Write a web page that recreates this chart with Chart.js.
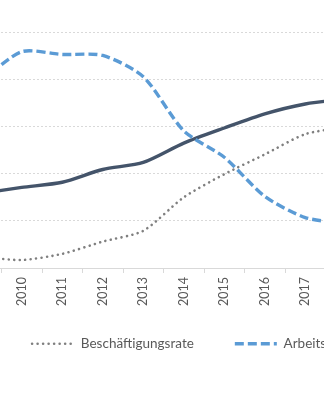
<!DOCTYPE html>
<html>
<head>
<meta charset="utf-8">
<script src="https://cdn.jsdelivr.net/npm/chart.js@4/dist/chart.umd.min.js"></script>
<style>
  html, body { margin: 0; padding: 0; background: #fff; overflow: hidden; width: 324px; height: 400px; }
  #wrap { position: absolute; left: -60px; top: -40px; }
</style>
</head>
<body>
<div id="wrap"><canvas id="chart" width="717" height="428"></canvas></div>
<script>
// years on the x axis (the picture is a crop, 2009 and 2018 sit just outside)
const years = ['2009', '2010', '2011', '2012', '2013', '2014', '2015', '2016', '2017', '2018'];

// series values (one unit per gridline)
const beschaeftigung = [0.24, 0.17, 0.30, 0.56, 0.79, 1.50, 1.99, 2.41, 2.84, 2.99];
const arbeitslos = [3.97, 4.59, 4.53, 4.51, 4.06, 2.91, 2.35, 1.52, 1.07, 0.94];
const drittereihe = [1.58, 1.71, 1.82, 2.09, 2.24, 2.65, 2.97, 3.27, 3.48, 3.59];

const labelNames = ['Beschäftigungsrate', 'Arbeitslosenquote', 'Reallohnindex'];

const txt = '#595959';
const grid = '#d9d9d9';

// pull the legend a bit closer to the axis labels (padding alone would also squeeze the gaps between items)
const legendUp = {
  id: 'legendUp',
  afterLayout(chart) {
    chart.legend.top -= 14;
    chart.legend.bottom -= 14;
  }
};

new Chart(document.getElementById('chart').getContext('2d'), {
  type: 'line',
  data: {
    labels: years,
    datasets: [
      {
        label: labelNames[0],
        data: beschaeftigung,
        borderColor: '#7f7f7f',
        borderWidth: 2.6,
        borderDash: [0.01, 5.5],
        borderCapStyle: 'round',
        tension: 0.25,
        pointRadius: 0
      },
      {
        label: labelNames[1],
        data: arbeitslos,
        borderColor: '#5b9bd5',
        borderWidth: 3.4,
        borderDash: [9, 4],
        tension: 0.25,
        pointRadius: 0
      },
      {
        label: labelNames[2],
        data: drittereihe,
        borderColor: '#44546a',
        borderWidth: 3.4,
        tension: 0.25,
        pointRadius: 0
      }
    ]
  },
  plugins: [legendUp],
  options: {
    responsive: false,
    animation: false,
    layout: { padding: { left: 0, right: 0, top: 25.2, bottom: 13.5 } },
    plugins: {
      tooltip: { enabled: false },
      legend: {
        position: 'bottom',
        labels: {
          color: txt,
          font: { family: 'Lato', size: 13.5 },
          usePointStyle: true,
          pointStyle: 'line',
          pointStyleWidth: 42,
          padding: 41,
          // point style legend takes the point options, so hand it the line's dash
          generateLabels: function(c) {
            const items = Chart.defaults.plugins.legend.labels.generateLabels(c);
            items.forEach(function(it) {
              const ds = c.data.datasets[it.datasetIndex];
              it.lineDash = ds.borderDash || [];
              it.lineCap = ds.borderCapStyle || 'butt';
              it.lineWidth = ds.borderWidth;
              it.strokeStyle = ds.borderColor;
            });
            return items;
          }
        }
      }
    },
    scales: {
      x: {
        offset: true,
        grid: { offset: true, drawOnChartArea: false, drawTicks: true, tickLength: 5, color: grid },
        border: { color: grid, width: 1 },
        ticks: {
          color: txt,
          font: { family: 'Lato', size: 12.5 },
          minRotation: 90,
          maxRotation: 90,
          padding: 4
        }
      },
      y: {
        min: 0,
        max: 6,
        ticks: { display: false, stepSize: 1 },
        grid: { color: grid, drawTicks: false },
        border: { display: false, dash: [2, 2] },
        afterFit: function(s) { s.width = 21; }
      },
      // empty spacer so the plot stops where the crop shows it, while the legend keeps the full width
      spacer: {
        position: 'right',
        ticks: { display: false },
        grid: { display: false, drawTicks: false },
        border: { display: false },
        afterFit: function(s) { s.width = 291; }
      }
    }
  }
});
</script>
</body>
</html>
